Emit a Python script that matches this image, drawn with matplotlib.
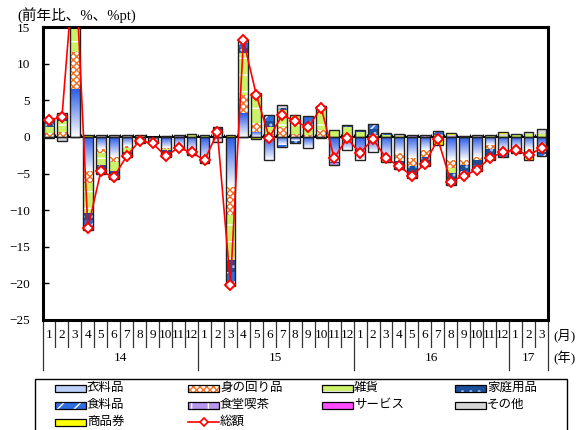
import numpy as np
import matplotlib.pyplot as plt
from matplotlib.colors import LinearSegmentedColormap
from matplotlib.patches import Rectangle
from matplotlib.lines import Line2D
from matplotlib.transforms import blended_transform_factory

plt.rcParams['font.family'] = ['Liberation Serif', 'Noto Sans CJK JP']
plt.rcParams['hatch.linewidth'] = 1.0

# months 2014/1 .. 2017/3
months = [1, 2, 3, 4, 5, 6, 7, 8, 9, 10, 11, 12] * 3 + [1, 2, 3]
years = ['14', '15', '16', '17']
year_len = [12, 12, 12, 3]

# contributions by item (%pt)
clothing = [-0.2, -0.3, 6.6, -4.7, -1.7, -2.7, -1.3, -0.5, -0.5, -1.5, -1.3, -1.8,
            -3.1, -0.6, -6.8, 3.2, 0.7, -3.1, -1.1, -0.5, -1.5, -0.2, -3.4, -1.8,
            -3.1, -2.0, -2.8, -2.2, -2.9, -1.8, -0.5, -3.1, -3.1, -2.7, -1.1, -1.8,
            -1.5, -1.7, -2.0]
accessories = [0.5, 0.7, 5.0, -1.6, -0.5, -0.7, -0.2, -0.1, -0.1, -0.1, 0.0, 0.0,
               0.0, 0.3, -3.9, 2.5, 1.2, 0.4, 1.4, 0.4, 0.2, 1.0, 0.0, 0.0,
               0.0, 0.0, -0.2, -1.1, -1.1, -0.9, -0.1, -1.1, -0.7, -0.4, -0.6, 0.0,
               0.0, -0.5, 0.0]
sundries = [0.9, 1.5, 5.5, -4.1, -1.7, -1.2, -0.6, 0.1, -0.1, -0.2, -0.1, 0.3,
            0.2, 0.7, -6.1, 5.7, 3.8, 1.0, 2.3, 2.6, 1.0, 3.0, 1.0, 1.4,
            0.7, 0.2, 0.3, 0.1, 0.0, 0.0, 0.2, -0.7, 0.0, 0.0, 0.1, 0.1,
            0.2, 0.4, 0.4]
household = [0.3, 0.4, 2.5, -1.0, -0.5, -0.5, -0.4, -0.2, -0.2, -0.4, -0.2, -0.3,
             -0.2, 0.2, -1.6, 0.8, 0.2, 0.8, 0.3, -0.3, 0.6, 0.1, -0.1, 0.1,
             0.1, 0.9, -0.2, -0.6, -0.8, -0.7, 0.2, -0.9, -0.8, -0.8, -0.8, -0.5,
             -0.4, -0.4, -0.3]
food = [0.5, 0.4, 3.5, -1.0, -0.5, -0.5, -0.3, 0.2, 0.0, -0.5, -0.1, -0.4,
        -0.2, 0.1, -1.6, 0.6, 0.1, 0.8, -0.3, 0.0, 0.9, 0.1, -0.1, 0.1,
        0.1, 0.6, 0.2, -0.5, -0.8, -0.6, 0.2, -0.8, -0.8, -0.8, -0.7, -0.4,
        -0.3, -0.3, -0.3]
dining = [0.1, 0.1, 0.8, -0.2, -0.1, -0.1, 0.0, 0.0, 0.0, 0.0, 0.1, 0.0,
          0.0, 0.0, -0.2, 0.2, 0.0, 0.0, 0.0, 0.0, 0.1, 0.0, -0.3, 0.0,
          0.0, 0.0, -0.1, 0.0, 0.1, 0.1, 0.0, 0.1, 0.0, 0.0, 0.0, 0.0,
          0.0, 0.0, 0.0]
services = [0.0, 0.0, 0.3, 0.0, 0.0, 0.0, 0.0, 0.0, 0.0, 0.0, 0.1, 0.0,
            0.0, 0.0, 0.0, 0.0, 0.0, 0.0, 0.0, 0.0, 0.0, 0.0, 0.0, 0.0,
            0.0, 0.0, 0.0, 0.0, 0.0, 0.0, 0.0, 0.0, 0.0, 0.0, 0.0, 0.0,
            0.0, 0.0, 0.0]
others = [0.1, -0.2, 0.5, -0.1, 0.2, 0.1, 0.1, 0.0, 0.0, 0.0, 0.0, 0.1,
          0.1, -0.1, -0.2, 0.1, 0.0, 0.0, 0.2, -0.1, 0.0, 0.0, 0.0, 0.0,
          0.0, 0.0, 0.0, 0.2, 0.1, 0.1, 0.2, 0.2, 0.1, 0.1, 0.1, 0.3,
          0.2, 0.2, 0.6]
gift = [0.1, 0.1, 0.3, 0.2, 0.1, 0.1, 0.1, 0.0, 0.0, 0.1, 0.0, 0.0,
        0.0, 0.0, 0.2, 0.1, -0.3, 0.0, 0.2, 0.0, 0.0, 0.0, 0.0, 0.0,
        0.0, 0.0, -0.1, 0.1, 0.1, 0.1, -0.5, 0.2, 0.0, 0.1, 0.1, 0.2,
        0.0, -0.2, 0.1]
total = [2.3, 2.7, 25.0, -12.5, -4.7, -5.5, -2.6, -0.5, -0.9, -2.6, -1.5, -2.1,
         -3.2, 0.6, -20.2, 13.2, 5.7, -0.1, 3.0, 2.1, 1.3, 4.0, -2.9, -0.2,
         -2.2, -0.3, -2.9, -4.0, -5.3, -3.7, -0.3, -6.1, -5.3, -4.5, -2.9, -2.1,
         -1.8, -2.5, -1.5]

# name, values, face, hatch, hatch colour
series = [
    ('衣料品', clothing, 'grad', None, None),
    ('身の回り品', accessories, 'white', 'xxxxx', '#f07020'),
    ('雑貨', sundries, '#ccf26a', '-', 'white'),
    ('家庭用品', household, '#1b4f9a', '..', '#9fc0f0'),
    ('食料品', food, '#2f6ee0', '//', 'white'),
    ('食堂喫茶', dining, '#b896ee', '|', 'white'),
    ('サービス', services, '#ff4cff', None, '#ff4cff'),
    ('その他', others, '#d6d6d6', None, '#d6d6d6'),
    ('商品券', gift, '#ffff00', None, '#ffff00'),
]

W, H = 583, 430
fig = plt.figure(figsize=(W / 100, H / 100), dpi=100)
ax = fig.add_axes([42.5 / W, 110 / H, 505.5 / W, 293 / H])

x = np.arange(len(total))
w = 0.76
grad_cm = LinearSegmentedColormap.from_list('cloth', ['#ffffff', '#2a5ae8'])
grad = np.linspace(0, 1, 64)[:, None]

pos = np.zeros(len(x))
neg = np.zeros(len(x))
for name, vals, fc, hatch, hc in series:
    vals = np.array(vals)
    base = np.where(vals >= 0, pos, neg)
    if fc == 'grad':
        for i in x:
            if vals[i] == 0:
                continue
            lo, hi = sorted([base[i], base[i] + vals[i]])
            ax.imshow(grad, extent=(i - w / 2, i + w / 2, lo, hi), origin='lower',
                      cmap=grad_cm, aspect='auto', zorder=2, interpolation='bilinear')
    else:
        ax.bar(x, vals, w, bottom=base, color=fc, hatch=hatch, edgecolor=hc,
               linewidth=0, zorder=2)
    pos += np.clip(vals, 0, None)
    neg += np.clip(vals, None, 0)

# outline of each stack
ax.bar(x, pos, w, fill=False, edgecolor='#222222', linewidth=1.0, zorder=3)
ax.bar(x, neg, w, fill=False, edgecolor='#222222', linewidth=1.0, zorder=3)

ax.axhline(0, color='black', lw=1.5, zorder=1.5)
ax.vlines(x[:-1] + 0.5, 0, 0.45, color='black', lw=0.8, zorder=1.5)

ax.plot(x, total, color='red', lw=1.2, marker='D', ms=5, mfc='white', mec='red',
        mew=1.4, zorder=5)

ax.set_xlim(-0.5, len(x) - 0.5)
ax.set_ylim(-25, 15)
ax.set_yticks(range(-25, 16, 5))
ax.set_xticks([])
ax.tick_params(axis='y', direction='in', length=4, width=1, labelsize=9.5, pad=9)
for s in ax.spines.values():
    s.set_linewidth(2.2)

# month / year table under the plot
trans = blended_transform_factory(ax.transData, ax.transAxes)
ybounds = np.cumsum([0] + year_len) - 0.5
for b in np.arange(-0.5, len(x), 1.0):
    bottom = -0.171 if b in ybounds else -0.092
    ax.plot([b, b], [0, bottom], color='#333333', lw=0.9, transform=trans, clip_on=False)
for i, m in enumerate(months):
    ax.text(i, -0.051, str(m), ha='center', va='center', fontsize=9.5, transform=trans)
for k, yr in enumerate(years):
    ax.text((ybounds[k] + ybounds[k + 1]) / 2, -0.13, yr, ha='center', va='center',
            fontsize=9.5, transform=trans)
ax.text(len(x) - 0.5 + 0.38, -0.051, '(月)', ha='left', va='center', fontsize=9.5,
        transform=trans)
ax.text(len(x) - 0.5 + 0.38, -0.13, '(年)', ha='left', va='center', fontsize=9.5,
        transform=trans)

fig.text(17 / W, 1 - 15 / H, '(前年比、%、%pt)', ha='left', va='center', fontsize=10.5)

# legend box, laid out row by row
fig.patches.append(Rectangle((35 / W, -0.02), 532 / W, 0.02 + 1 - 379 / H,
                             transform=fig.transFigure, fill=False,
                             edgecolor='black', linewidth=1.0))
col_x = [55, 188, 322, 455]
row_y = [388, 405, 422]
entries = [s[0] for s in series] + ['総額']
styles = {s[0]: s for s in series}
for k, name in enumerate(entries):
    cx = col_x[k % 4]
    cy = row_y[k // 4]
    if name == '総額':
        fig.lines.append(Line2D([cx / W, (cx + 31) / W], [1 - cy / H] * 2,
                                transform=fig.transFigure, color='red', lw=1.2))
        fig.lines.append(Line2D([(cx + 15.5) / W], [1 - cy / H], transform=fig.transFigure,
                                marker='D', ms=4, mfc='white', mec='red', mew=1.2))
    else:
        _, _, fc, hatch, hc = styles[name]
        if fc == 'grad':
            fc, hatch, hc = '#bcd0fa', None, None
        fig.patches.append(Rectangle((cx / W, 1 - (cy + 3.5) / H), 31 / W, 7 / H,
                                     transform=fig.transFigure, facecolor=fc,
                                     hatch=hatch, edgecolor=hc if hatch else 'black',
                                     linewidth=0 if hatch else 0.9))
        if hatch:
            fig.patches.append(Rectangle((cx / W, 1 - (cy + 3.5) / H), 31 / W, 7 / H,
                                         transform=fig.transFigure, fill=False,
                                         edgecolor='black', linewidth=0.9))
    fig.text((cx + 32) / W, 1 - cy / H, name, ha='left', va='center', fontsize=9)

fig.savefig('out.png', dpi=100)
